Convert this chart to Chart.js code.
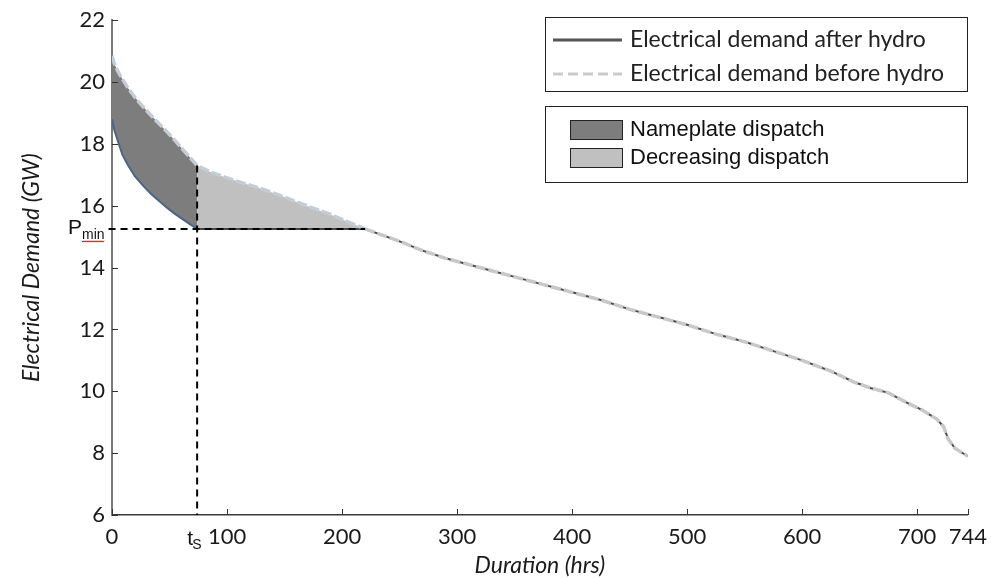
<!DOCTYPE html>
<html>
<head>
<meta charset="utf-8">
<script src="https://cdn.jsdelivr.net/npm/chart.js@4.4.0/dist/chart.umd.min.js"></script>
<style>
  body { margin: 0; background: #fff; }
  #wrap { width: 996px; height: 579px; }
</style>
</head>
<body>
<div id="wrap"><canvas id="loadCurve"></canvas></div>
<script>
const PMIN = 15.25;       // minimum stable output (GW)
const T_S = 74;           // hour where nameplate dispatch stops
const T_FLAT_END = 220;   // hour where hydro no longer shaves the curve

// peak hours, hydro at nameplate
const peakHours  = [0, 2, 5, 9, 14, 20, 27, 34, 41, 48, 55, 62, 68, 74];
const peakBefore = [20.85, 20.6, 20.35, 20.1, 19.8, 19.5, 19.2, 18.92, 18.65, 18.38, 18.1, 17.8, 17.55, 17.3];
const peakAfter  = [18.8, 18.45, 18.1, 17.65, 17.3, 16.95, 16.65, 16.38, 16.15, 15.93, 15.73, 15.55, 15.4, 15.25];

// shoulder hours, hydro decreasing down to Pmin
const shoulderHours  = [74, 85, 100, 115, 130, 145, 160, 175, 190, 205, 220];
const shoulderBefore = [17.3, 17.1, 16.9, 16.72, 16.55, 16.35, 16.13, 15.92, 15.72, 15.48, 15.25];

// rest of the month, both curves coincide
const tailHours  = [220, 235, 250, 270, 290, 310, 330, 350, 375, 400, 425, 450, 475, 500, 525, 550, 575, 600, 625, 645, 660, 675, 690, 704, 717, 723, 727, 733, 744];
const tailDemand = [15.25, 15.05, 14.85, 14.55, 14.3, 14.1, 13.9, 13.7, 13.45, 13.2, 12.95, 12.65, 12.4, 12.15, 11.85, 11.6, 11.3, 11.0, 10.65, 10.3, 10.1, 9.95, 9.65, 9.4, 9.1, 8.85, 8.45, 8.15, 7.9];

const xTickValues = [0, 100, 200, 300, 400, 500, 600, 700, 744];

const pts = (xs, ys) => xs.map((x, i) => ({ x: x, y: ys[i] }));

const beforeHydro = pts(peakHours, peakBefore)
  .concat(pts(shoulderHours.slice(1), shoulderBefore.slice(1)))
  .concat(pts(tailHours.slice(1), tailDemand.slice(1)));
const afterHydro = pts(peakHours, peakAfter)
  .concat([{ x: T_FLAT_END, y: PMIN }])
  .concat(pts(tailHours.slice(1), tailDemand.slice(1)));

const calibriLike = 'Lato, "Open Sans", sans-serif';
const arialLike = '"Liberation Sans", Arial, sans-serif';

// inward ticks, legend boxes and the Pmin / ts labels
const decor = {
  id: 'decor',
  afterDraw(chart) {
    const { ctx, scales: { x, y } } = chart;
    ctx.save();

    const seg = (x1, y1, x2, y2) => { ctx.beginPath(); ctx.moveTo(x1, y1); ctx.lineTo(x2, y2); ctx.stroke(); };

    ctx.strokeStyle = '#333';
    ctx.lineWidth = 1;
    y.ticks.forEach(t => {
      const py = Math.round(y.getPixelForValue(t.value)) + 0.5;
      seg(x.left, py, x.left + 6, py);
    });
    x.ticks.forEach(t => {
      const px = Math.round(x.getPixelForValue(t.value)) + 0.5;
      seg(px, y.bottom, px, y.bottom - 6);
    });

    // Pmin label with its red squiggle
    const pY = y.getPixelForValue(PMIN);
    ctx.fillStyle = '#111';
    ctx.textBaseline = 'alphabetic';
    ctx.textAlign = 'left';
    ctx.font = '21px ' + arialLike;
    ctx.fillText('P', 68, pY + 5);
    ctx.font = '14px ' + arialLike;
    ctx.fillText('min', 82, pY + 10);
    ctx.strokeStyle = '#d22';
    ctx.lineWidth = 1;
    ctx.beginPath();
    for (let i = 0; i <= 22; i++) {
      const sx = 82 + i;
      const sy = pY + 12 + (i % 2 ? 1.2 : -0.2);
      if (i === 0) ctx.moveTo(sx, sy); else ctx.lineTo(sx, sy);
    }
    ctx.stroke();

    // ts label under the axis
    const tX = x.getPixelForValue(T_S);
    ctx.fillStyle = '#111';
    ctx.font = '21px ' + arialLike;
    ctx.fillText('t', tX - 10, y.bottom + 30);
    ctx.font = '14px ' + arialLike;
    ctx.fillText('S', tX - 5, y.bottom + 34);

    // legend for the two curves
    ctx.strokeStyle = '#222';
    ctx.lineWidth = 1;
    ctx.strokeRect(545.5, 17.5, 422, 74);
    ctx.lineWidth = 3;
    ctx.strokeStyle = '#555';
    seg(553, 40, 622, 40);
    ctx.strokeStyle = '#cbcbcb';
    ctx.setLineDash([10, 5]);
    seg(553, 74, 622, 74);
    ctx.setLineDash([]);
    ctx.fillStyle = '#222';
    ctx.textBaseline = 'middle';
    ctx.font = '23px ' + calibriLike;
    ctx.fillText('Electrical demand after hydro', 630, 40);
    ctx.fillText('Electrical demand before hydro', 630, 74);

    // legend for the dispatch areas
    ctx.strokeStyle = '#222';
    ctx.lineWidth = 1;
    ctx.strokeRect(545.5, 106.5, 422, 76);
    ctx.fillStyle = '#7d7d7d';
    ctx.fillRect(570, 120, 52, 19);
    ctx.strokeRect(570.5, 120.5, 52, 19);
    ctx.fillStyle = '#c0c0c0';
    ctx.fillRect(570, 148, 52, 19);
    ctx.strokeRect(570.5, 148.5, 52, 19);
    ctx.fillStyle = '#111';
    ctx.font = '22px ' + arialLike;
    ctx.fillText('Nameplate dispatch', 630, 130);
    ctx.fillText('Decreasing dispatch', 630, 158);

    ctx.restore();
  }
};

new Chart(document.getElementById('loadCurve'), {
  type: 'line',
  data: {
    datasets: [
      {
        label: 'Pmin guide',
        data: [{ x: -3, y: PMIN }, { x: T_FLAT_END, y: PMIN }],
        borderColor: '#000',
        borderWidth: 2,
        borderDash: [7, 5],
        pointRadius: 0,
        clip: false,
        order: 0
      },
      {
        label: 'ts guide',
        data: [{ x: T_S, y: shoulderBefore[0] }, { x: T_S, y: 6 }],
        borderColor: '#000',
        borderWidth: 2,
        borderDash: [7, 5],
        pointRadius: 0,
        clip: false,
        order: 0
      },
      {
        label: 'Electrical demand before hydro',
        data: beforeHydro,
        borderColor: '#c8c8c8',
        borderWidth: 3.5,
        borderDash: [10, 3],
        pointRadius: 0,
        segment: {
          borderColor: c => c.p0.parsed.x < T_FLAT_END ? '#c4ccd8' : '#c8c8c8'
        },
        order: 1
      },
      {
        label: 'Electrical demand after hydro',
        data: afterHydro,
        borderColor: '#4a4a4a',
        borderWidth: 2,
        pointRadius: 0,
        segment: {
          borderColor: c => c.p0.parsed.x < T_S ? '#4d6585' : '#4a4a4a'
        },
        order: 2
      },
      {
        label: 'Decreasing dispatch',
        data: pts(shoulderHours, shoulderBefore),
        borderWidth: 0,
        pointRadius: 0,
        backgroundColor: '#c0c0c0',
        fill: { value: PMIN },
        order: 3
      },
      {
        label: 'Nameplate dispatch',
        data: pts(peakHours, peakBefore),
        borderWidth: 0,
        pointRadius: 0,
        backgroundColor: '#7d7d7d',
        fill: 6,
        order: 4
      },
      {
        label: 'Nameplate lower edge',
        data: pts(peakHours, peakAfter),
        borderWidth: 0,
        pointRadius: 0,
        fill: false,
        order: 5
      }
    ]
  },
  options: {
    responsive: true,
    maintainAspectRatio: false,
    animation: false,
    layout: { padding: { top: 17, right: 23, left: 0, bottom: 0 } },
    elements: { line: { tension: 0 } },
    plugins: {
      legend: { display: false },
      tooltip: { enabled: false }
    },
    scales: {
      x: {
        type: 'linear',
        min: 0,
        max: 744,
        afterBuildTicks: scale => { scale.ticks = xTickValues.map(v => ({ value: v })); },
        afterFit: scale => { scale.height = 64; },
        grid: { display: false, drawTicks: false },
        border: { display: true, color: '#3a3a3a', width: 1.5 },
        ticks: {
          padding: 9,
          color: '#1a1a1a',
          font: { family: calibriLike, size: 22 },
          maxRotation: 0,
          autoSkip: false
        },
        title: {
          display: true,
          text: 'Duration (hrs)',
          color: '#1a1a1a',
          font: { family: calibriLike, size: 23, style: 'italic' },
          padding: { top: 0, bottom: 0 }
        }
      },
      y: {
        min: 6,
        max: 22,
        afterFit: scale => { scale.width = 112; },
        grid: { display: false, drawTicks: false },
        border: { display: true, color: '#7a7a7a', width: 2 },
        ticks: {
          stepSize: 2,
          padding: 7,
          color: '#1a1a1a',
          font: { family: calibriLike, size: 22 }
        },
        title: {
          display: true,
          text: 'Electrical Demand (GW)',
          color: '#1a1a1a',
          font: { family: calibriLike, size: 23, style: 'italic' },
          padding: { top: 18, bottom: 0 }
        }
      }
    }
  },
  plugins: [decor]
});
</script>
</body>
</html>
